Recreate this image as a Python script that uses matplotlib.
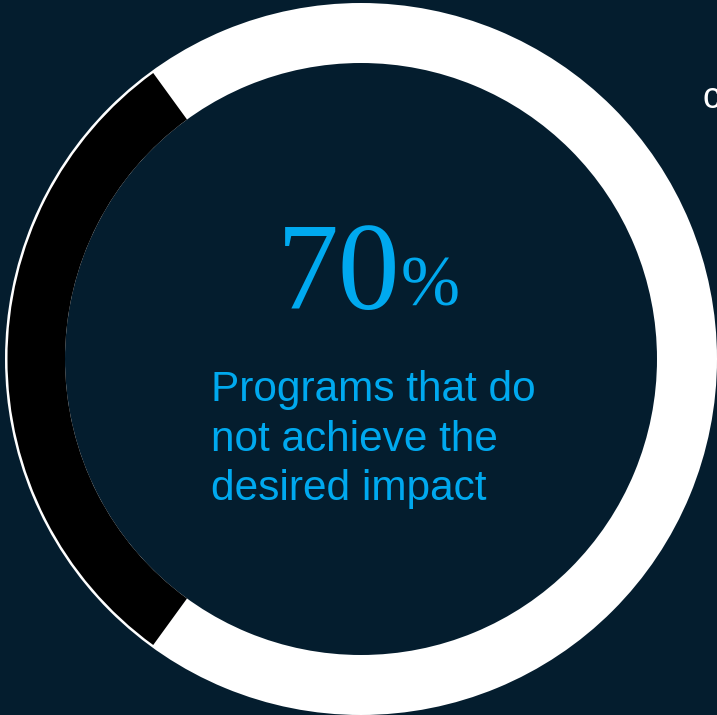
import matplotlib.pyplot as plt
from matplotlib.patches import Wedge

# share of programs
values = [70, 30]
colors = ['white', 'black']
big_number = '70'
big_sign = '%'
caption = 'Programs that do\nnot achieve the\ndesired impact'
side_text = 'c'

bg = '#041d2e'
blue = '#00a9ef'

fig = plt.figure(figsize=(7.17, 7.15), dpi=100)
fig.patch.set_facecolor(bg)
ax = fig.add_axes([0, 0, 1, 1])
ax.set_facecolor(bg)
ax.set_xlim(0, 717)
ax.set_ylim(715, 0)
ax.axis('off')

cx, cy = 361, 359
r_out, r_in = 356, 296

# black segment centred on the left side
span = [v / sum(values) * 360 for v in values]
start_black = 180 - span[1] / 2
# white ring underneath (shows as a thin rim round the black part)
ax.add_patch(Wedge((cx, cy), r_out, 0, 360, width=r_out - r_in,
                   facecolor=colors[0], edgecolor='none'))
ax.add_patch(Wedge((cx, cy), r_out - 2.5, start_black, start_black + span[1],
                   width=r_out - 2.5 - r_in, facecolor=colors[1], edgecolor='none'))

ax.text(277, 309, big_number, color=blue, fontsize=89, family='Liberation Serif',
        ha='left', va='baseline')
ax.text(401, 305, big_sign, color=blue, fontsize=51, family='Liberation Serif',
        ha='left', va='baseline')
ax.text(211, 500, caption, color=blue, fontsize=30.5, family='Liberation Sans',
        ha='left', va='baseline', linespacing=1.3)
ax.text(703, 108, side_text, color='white', fontsize=26, family='Liberation Sans',
        ha='left', va='baseline', clip_on=False)

fig.savefig('out.png', dpi=100, facecolor=bg)
